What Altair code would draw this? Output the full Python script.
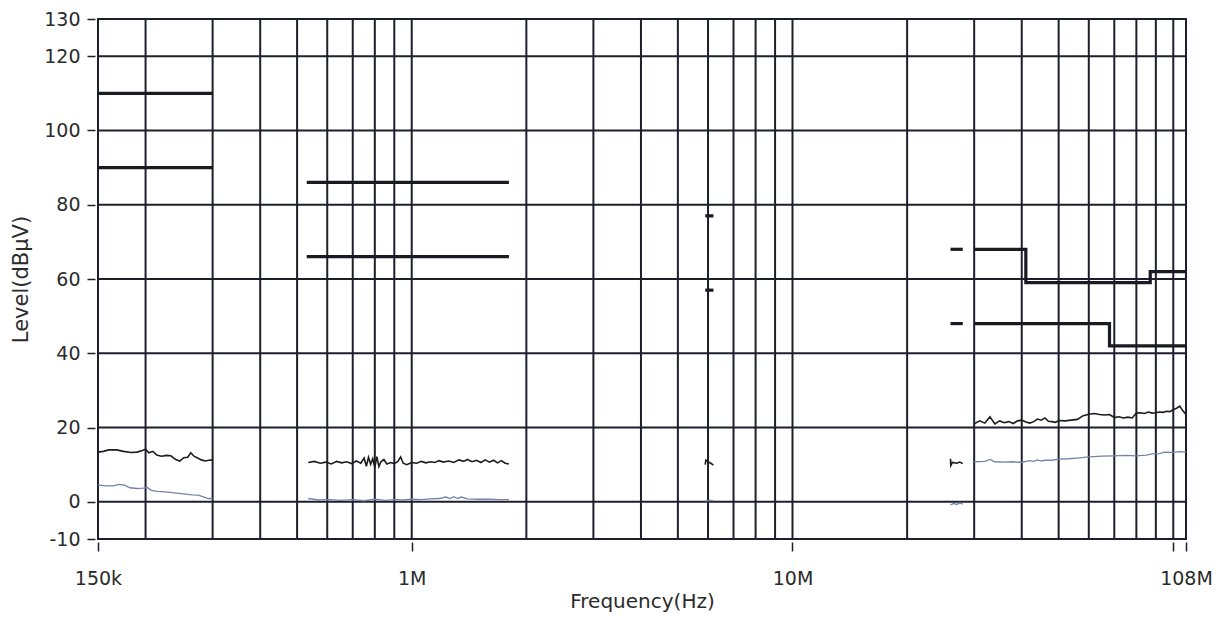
import altair as alt
import pandas as pd

# ---------------- data ----------------
# vertical grid frequencies (Hz)
X_GRID_HZ = [200000, 300000, 400000, 500000, 600000, 700000, 800000, 900000,
             1000000, 2000000, 3000000, 4000000, 5000000, 6000000, 7000000, 8000000, 9000000,
             10000000, 20000000, 30000000, 40000000, 50000000, 60000000, 70000000, 80000000,
             90000000, 100000000]
Y_GRID = [-10, 0, 20, 40, 60, 80, 100, 120, 130]

X_TICK_HZ = [150000, 1000000, 10000000, 100000000, 108000000]
X_TICK_TEXT = ["150k", "1M", "10M", "", "108M"]
Y_TICKS = [-10, 0, 20, 40, 60, 80, 100, 120, 130]

# measured traces -- LW band (kHz)
LW_PK_KHZ = [150, 155, 160, 168, 175, 183, 190, 197, 200, 204, 209, 214, 220, 227, 233,
             240, 246, 252, 258, 263, 268, 274, 280, 287, 293, 300]
LW_PK_DB = [13.4, 13.6, 14.0, 14.0, 13.6, 13.3, 13.4, 13.9, 14.2, 13.2, 13.6, 12.6, 12.3, 12.5, 12.4,
            11.4, 11.0, 11.9, 12.0, 13.2, 12.3, 11.8, 11.3, 11.0, 11.2, 11.3]
LW_AV_KHZ = [150, 157, 165, 170, 176, 182, 190, 197, 202, 207, 215, 225, 235, 245, 255, 265, 275, 285, 292, 300]
LW_AV_DB = [4.6, 4.3, 4.3, 4.7, 4.5, 3.8, 3.6, 3.7, 3.9, 3.1, 2.8, 2.7, 2.5, 2.3, 2.1, 1.9, 1.8, 1.3, 0.9, 0.9]

# MW band (kHz)
MW_PK_KHZ = [535, 555, 575, 595, 615, 635, 655, 675, 695, 715, 735, 750, 760, 770, 780, 790, 800, 810,
             820, 830, 845, 860, 880, 900, 920, 935, 950, 970, 1000, 1030, 1060, 1090, 1120, 1150,
             1180, 1210, 1250, 1290, 1330, 1370, 1400, 1440, 1480, 1520, 1560, 1600, 1640, 1680,
             1720, 1760, 1800]
MW_PK_DB = [10.6, 10.9, 10.4, 10.7, 10.2, 10.9, 10.5, 10.8, 10.3, 11.0, 10.4, 11.8, 9.6, 12.0, 10.1, 11.6,
            9.3, 12.2, 9.5, 10.8, 11.4, 10.2, 10.6, 10.3, 10.9, 12.1, 10.4, 10.0, 10.6, 10.4, 10.9,
            10.5, 10.8, 10.6, 11.1, 10.7, 11.0, 10.6, 11.3, 10.9, 11.4, 10.8, 11.2, 10.6, 11.3, 10.7,
            11.2, 10.5, 11.1, 10.4, 10.2]
MW_AV_KHZ = [535, 570, 610, 650, 700, 750, 800, 850, 900, 950, 1000, 1060, 1120, 1180, 1230, 1260,
             1290, 1320, 1350, 1400, 1500, 1600, 1700, 1800]
MW_AV_DB = [0.9, 0.5, 0.6, 0.4, 0.6, 0.3, 0.7, 0.4, 0.6, 0.5, 0.7, 0.6, 0.8, 0.9, 1.3, 0.9,
            1.4, 0.9, 1.3, 0.8, 0.7, 0.7, 0.6, 0.6]

# SW band (MHz)
SW_PK_MHZ = [5.9, 5.92, 5.96, 6.0, 6.1, 6.2]
SW_PK_DB = [10.0, 11.2, 11.0, 10.8, 10.4, 9.9]
SW_AV_MHZ = [5.9, 6.05, 6.2]
SW_AV_DB = [0.2, 0.4, 0.3]

# CB band (MHz)
CB_PK_MHZ = [26.0, 26.05, 26.3, 27.0, 27.5, 28.0]
CB_PK_DB = [11.6, 9.8, 10.6, 10.4, 10.7, 10.3]
CB_AV_MHZ = [26.0, 26.5, 27.0, 27.5, 28.0]
CB_AV_DB = [-0.8, -0.4, -0.7, -0.3, -0.6]

# VHF band (MHz)
VHF_PK_MHZ = [30, 31, 32, 33, 34, 35, 36, 37, 38, 39, 40, 41, 42, 43, 44, 45, 46, 47, 48, 49, 50,
              52, 54, 56, 58, 60, 62, 64, 66, 68, 70, 72, 74, 76, 78, 80, 82, 84, 86, 88, 90, 92,
              94, 96, 98, 100, 102, 104, 106, 108]
VHF_PK_DB = [21.0, 21.8, 21.2, 22.9, 21.0, 21.8, 21.3, 21.6, 21.1, 21.8, 22.0, 21.5, 21.2, 21.6, 22.3,
             22.0, 22.6, 21.7, 21.6, 21.4, 21.9, 21.8, 22.0, 22.2, 23.2, 23.6, 23.8, 23.5, 23.4, 23.5,
             22.7, 22.9, 22.6, 22.8, 22.6, 23.9, 24.0, 23.8, 24.2, 23.9, 24.0, 24.2, 24.1, 24.4, 24.3,
             24.8, 25.2, 25.8, 24.5, 23.5]
VHF_AV_MHZ = [30, 32, 33, 34, 36, 38, 40, 41, 42, 43, 44, 45, 46, 48, 50, 53, 56, 60, 65, 70, 75,
              80, 85, 88, 92, 95, 100, 104, 108]
VHF_AV_DB = [10.8, 10.9, 11.4, 10.8, 10.7, 10.8, 10.6, 10.9, 11.1, 10.9, 11.3, 11.0, 11.2, 11.2, 11.5,
             11.6, 11.8, 12.1, 12.3, 12.4, 12.5, 12.4, 12.6, 12.9, 13.0, 13.4, 13.3, 13.5, 13.4]

# limit lines (MHz, dBuV)
LIMITS = {
    "lw_pk": ([0.15, 0.3], [110, 110]),
    "lw_av": ([0.15, 0.3], [90, 90]),
    "mw_pk": ([0.53, 1.8], [86, 86]),
    "mw_av": ([0.53, 1.8], [66, 66]),
    "sw_pk": ([5.9, 6.2], [77, 77]),
    "sw_av": ([5.9, 6.2], [57, 57]),
    "cb_pk": ([26, 28], [68, 68]),
    "cb_av": ([26, 28], [48, 48]),
    "vhf_pk": ([30, 41, 41, 87, 87, 108], [68, 68, 59, 59, 62, 62]),
    "vhf_av": ([30, 68, 68, 108], [48, 48, 42, 42]),
}

# ---------------- build tables ----------------
rows = []


def add(kind, seg, freqs_hz, vals):
    for i, (f, v) in enumerate(zip(freqs_hz, vals)):
        rows.append({"kind": kind, "seg": seg, "f": f, "v": v, "i": i})


add("pk", "lw", [k * 1e3 for k in LW_PK_KHZ], LW_PK_DB)
add("av", "lw", [k * 1e3 for k in LW_AV_KHZ], LW_AV_DB)
add("pk", "mw", [k * 1e3 for k in MW_PK_KHZ], MW_PK_DB)
add("av", "mw", [k * 1e3 for k in MW_AV_KHZ], MW_AV_DB)
add("pk", "sw", [m * 1e6 for m in SW_PK_MHZ], SW_PK_DB)
add("av", "sw", [m * 1e6 for m in SW_AV_MHZ], SW_AV_DB)
add("pk", "cb", [m * 1e6 for m in CB_PK_MHZ], CB_PK_DB)
add("av", "cb", [m * 1e6 for m in CB_AV_MHZ], CB_AV_DB)
add("pk", "vhf", [m * 1e6 for m in VHF_PK_MHZ], VHF_PK_DB)
add("av", "vhf", [m * 1e6 for m in VHF_AV_MHZ], VHF_AV_DB)
for name, (fs, vs) in LIMITS.items():
    add("lim", name, [m * 1e6 for m in fs], vs)

df = pd.DataFrame(rows)
grid_x = pd.DataFrame({"f": X_GRID_HZ})
grid_y = pd.DataFrame({"v": Y_GRID})

GRID_COLOR = "#1e1f2c"
TEXT_COLOR = "#2b2b2b"
FONT = "DejaVu Sans"

label_expr = " : ".join(
    f"datum.value == {v} ? '{t}'" for v, t in zip(X_TICK_HZ, X_TICK_TEXT)
) + " : ''"

xscale = alt.Scale(type="log", domain=[150000, 108000000], nice=False)
yscale = alt.Scale(domain=[-10, 130], nice=False, zero=False)

x_axis = alt.Axis(
    title="Frequency(Hz)", values=X_TICK_HZ, labelExpr=label_expr, grid=False,
    domain=False, offset=3, tickSize=9, tickColor=GRID_COLOR, tickWidth=1.5,
    labelPadding=27, labelBaseline="middle", labelFontSize=19, labelFont=FONT,
    labelColor=TEXT_COLOR, labelOverlap=False, labelFlush=False,
    titleFont=FONT, titleFontSize=20, titleFontWeight="normal", titleColor=TEXT_COLOR,
    titleBaseline="alphabetic", titleY=65,
)
y_axis = alt.Axis(
    title="Level(dBμV)", values=Y_TICKS, labelExpr="'' + datum.value",
    grid=False, domain=False, offset=3,
    tickSize=8, tickColor=GRID_COLOR, tickWidth=1.5, labelPadding=7,
    labelFontSize=19, labelFont=FONT, labelColor=TEXT_COLOR, labelOverlap=False,
    labelFlush=False,
    titleFont=FONT, titleFontSize=21, titleFontWeight="normal", titleColor=TEXT_COLOR,
    titleBaseline="middle", titleX=-74,
)

vgrid = alt.Chart(grid_x).mark_rule(color=GRID_COLOR, strokeWidth=2).encode(
    x=alt.X("f:Q", scale=xscale, axis=x_axis)
)
hgrid = alt.Chart(grid_y).mark_rule(color=GRID_COLOR, strokeWidth=2).encode(
    y=alt.Y("v:Q", scale=yscale, axis=y_axis)
)

base = alt.Chart(df).encode(
    x=alt.X("f:Q", scale=xscale),
    y=alt.Y("v:Q", scale=yscale),
    detail="seg:N",
    order="i:Q",
)
limits = base.transform_filter("datum.kind == 'lim'").mark_line(
    color="#1a1a22", strokeWidth=3.2, strokeJoin="miter", strokeCap="butt"
)
avg = base.transform_filter("datum.kind == 'av'").mark_line(
    color="#7484a8", strokeWidth=1.3
)
peak = base.transform_filter("datum.kind == 'pk'").mark_line(
    color="#1c1c1c", strokeWidth=1.6
)

chart = (
    alt.layer(vgrid, hgrid, limits, avg, peak)
    .properties(
        width=1088, height=520,
        padding={"left": 90, "top": 11, "right": 28, "bottom": 73},
        autosize=alt.AutoSizeParams(type="none"),
        background="white",
    )
    .configure_view(stroke=GRID_COLOR, strokeWidth=2)
)

chart.save("out.html", embed_options={"renderer": "svg", "actions": False})
